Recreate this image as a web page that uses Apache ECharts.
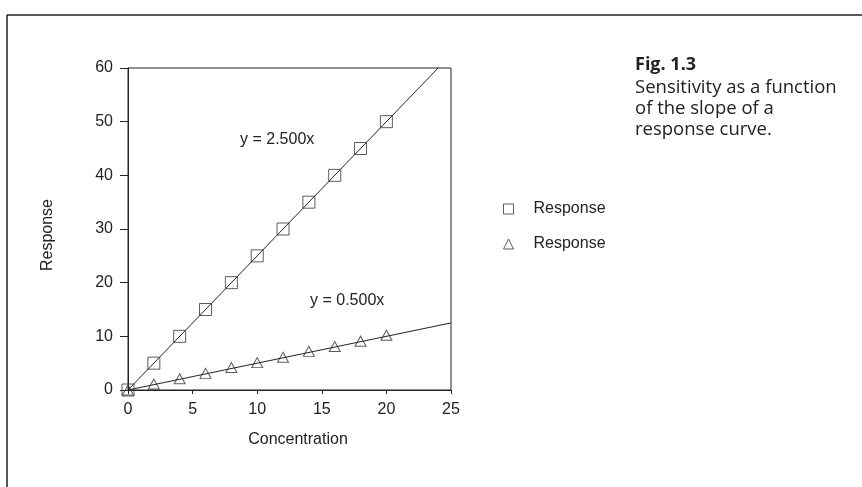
<!DOCTYPE html>
<html><head><meta charset="utf-8">
<script src="https://cdn.jsdelivr.net/npm/echarts@6/dist/echarts.min.js"></script>
<style>html,body{margin:0;padding:0;background:#fff}#c{width:862px;height:487px}</style>
</head><body><div id="c"></div>
<script>
const concentration = [0, 2, 4, 6, 8, 10, 12, 14, 16, 18, 20];
const responseSteep = [0, 5, 10, 15, 20, 25, 30, 35, 40, 45, 50];
const responseShallow = [0, 1.1, 2.1, 3.1, 4.2, 5.1, 6.1, 7.2, 8.1, 9.1, 10.2];
const fitSteepX = [0, 24];
const fitSteepY = [0, 60];
const fitShallowX = [0, 25];
const fitShallowY = [0, 12.5];
const xTicks = [0, 5, 10, 15, 20, 25];
const yTicks = [0, 10, 20, 30, 40, 50, 60];
const legendLabel = 'Response';
const eqSteep = 'y = 2.500x';
const eqShallow = 'y = 0.500x';
const captionTitle = 'Fig. 1.3';
const captionLines = ['Sensitivity as a function', 'of the slope of a', 'response curve.'];

const zip = (a, b) => a.map((v, i) => [v, b[i]]);
const ink = '#222';
const font = 'Liberation Sans';
const fs = 16;

const chart = echarts.init(document.getElementById('c'), null, {renderer: 'canvas'});
chart.setOption({
  backgroundColor: '#fff',
  animation: false,
  grid: {left: 128, right: 411, top: 68, bottom: 97, show: true, borderColor: ink, borderWidth: 1},
  xAxis: {
    type: 'value', min: xTicks[0], max: xTicks[xTicks.length - 1], interval: xTicks[1] - xTicks[0],
    name: 'Concentration', nameLocation: 'middle', nameGap: 42,
    nameTextStyle: {fontFamily: font, fontSize: fs, color: ink, padding: [0, 0, 0, 17]},
    axisLine: {lineStyle: {color: ink}},
    axisTick: {show: true, length: 4, lineStyle: {color: ink}},
    axisLabel: {fontFamily: font, fontSize: fs, color: ink, margin: 12},
    splitLine: {show: false}
  },
  yAxis: {
    type: 'value', min: yTicks[0], max: yTicks[yTicks.length - 1], interval: yTicks[1] - yTicks[0],
    name: 'Response', nameLocation: 'middle', nameGap: 72,
    nameTextStyle: {fontFamily: font, fontSize: fs, color: ink, padding: [0, 12, 0, 0]},
    axisLine: {show: true, lineStyle: {color: ink}},
    axisTick: {show: true, length: 8, lineStyle: {color: ink}},
    axisLabel: {fontFamily: font, fontSize: fs, color: ink, margin: 15},
    splitLine: {show: false}
  },
  legend: {
    orient: 'vertical', left: 498, top: 196, itemGap: 19,
    itemWidth: 10, itemHeight: 10,
    data: ['Steep', 'Shallow'],
    formatter: () => legendLabel,
    itemStyle: {borderWidth: 1},
    textStyle: {fontFamily: font, fontSize: fs, color: ink, padding: [0, 0, 0, 15]}
  },
  series: [
    {name: 'SteepFit', type: 'line', data: zip(fitSteepX, fitSteepY), symbol: 'none',
     lineStyle: {color: ink, width: 1}, silent: true, z: 1},
    {name: 'ShallowFit', type: 'line', data: zip(fitShallowX, fitShallowY), symbol: 'none',
     lineStyle: {color: ink, width: 1}, silent: true, z: 1},
    {name: 'Steep', type: 'scatter', data: zip(concentration, responseSteep),
     symbol: 'rect', symbolSize: 12,
     itemStyle: {color: 'rgba(0,0,0,0)', borderColor: '#333', borderWidth: 1}, z: 2},
    {name: 'Shallow', type: 'scatter', data: zip(concentration, responseShallow),
     symbol: 'triangle', symbolSize: [11, 10],
     itemStyle: {color: 'rgba(0,0,0,0)', borderColor: '#333', borderWidth: 1}, z: 2}
  ],
  graphic: [
    {type: 'line', shape: {x1: 7, y1: 15, x2: 862, y2: 15}, style: {stroke: ink, lineWidth: 1.5}},
    {type: 'line', shape: {x1: 7, y1: 15, x2: 7, y2: 487}, style: {stroke: ink, lineWidth: 1.5}},
    {type: 'text', left: 240, top: 132, style: {text: eqSteep, font: fs + 'px "Liberation Sans"', fill: ink}},
    {type: 'text', left: 310, top: 293, style: {text: eqShallow, font: fs + 'px "Liberation Sans"', fill: ink}},
    {type: 'text', left: 635, top: 56, style: {text: captionTitle, font: 'bold 18px "Open Sans"', fill: ink}},
    {type: 'text', left: 635, top: 77, style: {text: captionLines.join('\n'), font: '18.5px "Open Sans"', lineHeight: 21, fill: ink}}
  ]
});
</script></body></html>
